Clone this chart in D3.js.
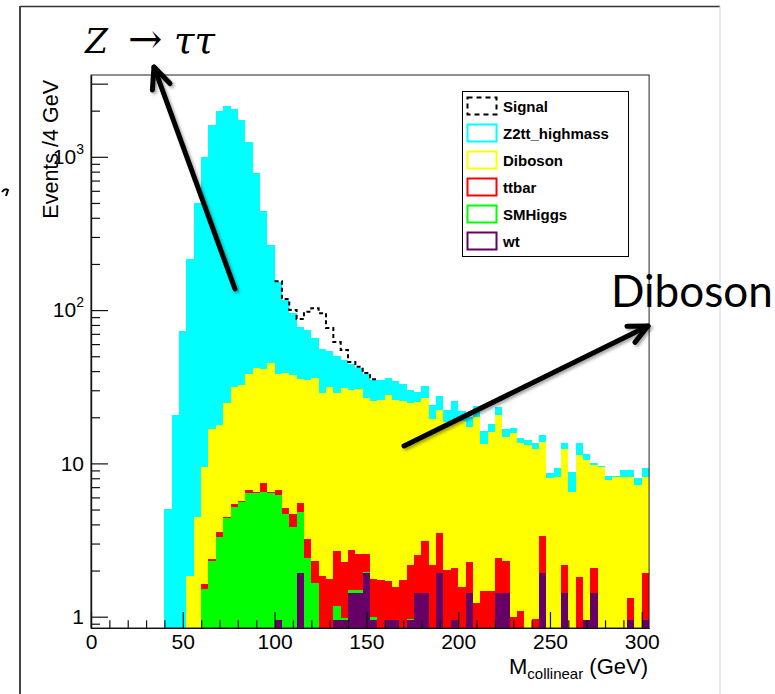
<!DOCTYPE html>
<html><head><meta charset="utf-8">
<script src="https://cdn.jsdelivr.net/npm/d3@7"></script>
<style>body{margin:0;background:#fff}svg{display:block}</style>
</head><body>
<svg id="c" width="775" height="694"></svg>
<script>
// ---- data (bin low edges in GeV, 4 GeV bins) ----
const binLow = [40,44,48,52,56,60,64,68,72,76,80,84,88,92,96,100,104,108,112,116,120,124,128,132,136,140,144,148,152,156,160,164,168,172,176,180,184,188,192,196,200,204,208,212,216,220,224,228,232,236,240,244,248,252,256,260,264,268,272,276,280,284,288,292,296,300];
const binWidth = 4;
const wt = [0,0,0,0,0, 0,0,0,0,0, 0,0,0,0,0, 0.95,0,0,1.92,0, 0,0,0,0.95,0.95, 1.43,1.43,1.92,0.95,0, 0.95,0.95,0,0.95,1.43, 1.43,0,1.92,0,0.95, 0,1.43,0,0,0, 1.43,1.43,0,0,0, 0,1.92,0,0,1.43, 0,0,0.95,1.43,0, 0,0,0,0.95,0, 0.95];
const smhiggs = [0,0,0,0,0, 1.51,2.32,3.33,4.38,5.22, 5.63,6.38,6.44,6.54,6.38, 5.27,4.68,3.83,2.92,2.43, 1.65,0,0,0.22,0.03, 0.06,0.06,0.03,0.04,0, 0,0,0,0.01,0, 0,0,0,0,0, 0,0,0,0,0, 0,0,0,0,0, 0,0,0,0,0, 0,0,0,0,0, 0,0,0,0,0, 0];
const ttbar = [0,0,0,0,0, 0.12,0.06,0.25,0.11,0.22, 0.02,0.33,0.10,0.88,0.16, 0.49,0.42,0.85,0.65,0.77, 0.66,1.84,1.75,1.51,1.30, 1.23,1.07,0.61,0.76,1.74, 0.76,0.62,1.74,1.21,1.10, 1.70,2.17,1.58,2.02,1.12, 1.57,0.86,1.22,1.46,1.46, 1.00,0.88,0.99,1.09,0, 0.96,1.44,0,0,0.74, 0,1.82,0,0.64,0, 0,0,0,0.37,0, 0.97];
const diboson = [0,0,0,1.85,4.45, 7.89,14.5,14.2,20.2,26.0, 26.9,31.4,35.2,33.7,38.9, 31.6,33.6,33.0,29.9,31.8, 33.6,27.1,29.9,26.2,28.6, 27.4,28.0,24.0,23.6,24.2, 26.2,24.5,23.9,22.7,22.8, 23.5,17.2,18.8,16.7,17.3, 17.4,14.9,18.8,12.0,14.6, 18.3,12.6,14.7,12.4,13.2, 11.5,10.5,8.0,8.19,10.3, 6.54,9.5,9.55,7.7,9.52, 7.79,8.19,8.19,6.87,7.23, 6.27];
const z2tt = [5.04,20.7,73.4,213.7,492.5, 992,1595,1980,2120,2010, 1706,1216,739,404,221, 114.7,77.3,57.6,42.5,39.2, 29.6,26.9,22.5,21.3,16.4, 14.7,11.3,11.7,9.7,9.1, 8.2,8.4,7.4,5.2,4.1, 5.5,4.6,5.2,3.6,6.1, 3.1,2.8,3.7,2.8,2.0, 2.5,1.8,1.2,1.1,1.0, 1.1,1.4,0.62,1.1,1.2, 2.3,2.2,1.0,0.24,0.1, 0.52,0.1,0.87,0.87,0.77, 1.1];
const signal = [0,0,0,0,0, 0,0,0,0,0, 0,0,0,0,0, 1.5,2,4.9,9.6,23.4, 37.2,39.5,22.3,11.7,7.6, 1.0,0.8,0.6,0.3,0, 0,0,0,0,0, 0,0,0,0,0, 0,0,0,0,0, 0,0,0,0,0, 0,0,0,0,0, 0,0,0,0,0, 0,0,0,0,0, 0];

const stackKeys = ["wt","SMHiggs","ttbar","Diboson","Z2tt_highmass"];
const colors = {wt:"#660066", SMHiggs:"#00ff00", ttbar:"#ff0000", Diboson:"#ffff00", Z2tt_highmass:"#00ffff", Signal:"#000000"};
const legendOrder = ["Signal","Z2tt_highmass","Diboson","ttbar","SMHiggs","wt"];
const xMajorTicks = [0,50,100,150,200,250,300];
const xMinorTicks = [10,20,30,40,60,70,80,90,110,120,130,140,160,170,180,190,210,220,230,240,260,270,280,290];
const yMajorTicks = [1,10,100,1000,3000];
const yMinorTicks = [0.9,2,3,4,5,6,7,8,9,20,30,40,50,60,70,80,90,200,300,400,500,600,700,800,900,2000];
const yLabels = {1:["1",""],10:["10",""],100:["10","2"],1000:["10","3"],3000:["",""]};

// ---- layout ----
const L = 91, R = 649.1, T = 75, B = 628;
const ymin = 0.8437, ymax = 3417;
const x = d3.scaleLinear().domain([0,304]).range([L,R]);
const y = d3.scaleLog().domain([ymin,ymax]).range([B,T]);
const font = "'Liberation Sans', Arial, sans-serif";

const svg = d3.select("#c");
const defs = svg.append("defs");
defs.append("clipPath").attr("id","clip").append("rect").attr("x",L).attr("y",T).attr("width",R-L).attr("height",B-T);
const f = defs.append("filter").attr("id","shadow").attr("x","-20%").attr("y","-20%").attr("width","140%").attr("height","140%");
f.append("feDropShadow").attr("dx",2).attr("dy",2).attr("stdDeviation",1.6).attr("flood-color","#000").attr("flood-opacity",0.35);

// canvas border
svg.append("line").attr("x1",20).attr("y1",6.5).attr("x2",720).attr("y2",6.5).attr("stroke","#333").attr("stroke-width",1.5);
svg.append("line").attr("x1",20).attr("y1",6).attr("x2",20).attr("y2",694).attr("stroke","#444").attr("stroke-width",2);
svg.append("line").attr("x1",720).attr("y1",6).attr("x2",720).attr("y2",694).attr("stroke","#d8d8d8").attr("stroke-width",1);

// ---- histograms ----
const rows = binLow.map((lo,i)=>({lo, wt:wt[i], SMHiggs:smhiggs[i], ttbar:ttbar[i], Diboson:diboson[i], Z2tt_highmass:z2tt[i]}));
const layers = d3.stack().keys(stackKeys)(rows);
const n = binLow.length;
const gH = svg.append("g").attr("clip-path","url(#clip)");
const area = d3.area().x(d=>x(d.x)).y0(B).y1(d=>y(Math.max(d.v,ymin))).curve(d3.curveStepAfter);
for (let li = layers.length-1; li >= 0; li--) {
  const Ly = layers[li];
  const pts = Ly.map((d,i)=>({x:binLow[i], v:d[1]}));
  pts.push({x:binLow[n-1]+binWidth, v:Ly[n-1][1]});
  gH.append("path").attr("d",area(pts)).attr("fill",colors[Ly.key]).attr("shape-rendering","crispEdges");
}
// signal (on top of total background)
const totLayer = layers[layers.length-1];
const sigPts = [];
let lastI = -1;
rows.forEach((r,i)=>{ if (signal[i]>0){ sigPts.push({x:r.lo, v: totLayer[i][1]+signal[i]}); lastI=i; } });
sigPts.push({x:binLow[lastI]+binWidth, v: totLayer[lastI][1]+signal[lastI]});
gH.append("path").attr("d", d3.line().x(d=>x(d.x)).y(d=>y(d.v)).curve(d3.curveStepAfter)(sigPts))
  .attr("fill","none").attr("stroke","#000").attr("stroke-width",2).attr("stroke-dasharray","4 3");

// ---- frame & axes ----
svg.append("rect").attr("x",L).attr("y",T).attr("width",R-L).attr("height",B-T).attr("fill","none").attr("stroke","#222").attr("stroke-width",1);

const gx = svg.append("g").attr("transform",`translate(0,${B})`);
gx.call(d3.axisBottom(x).tickValues(xMinorTicks).tickSize(-7.7).tickSizeOuter(0).tickFormat(""));
const gx2 = svg.append("g").attr("transform",`translate(0,${B})`);
gx2.call(d3.axisBottom(x).tickValues(xMajorTicks).tickSize(-16).tickPadding(6).tickSizeOuter(0).tickFormat(d3.format("d")));
[gx,gx2].forEach(g=>{ g.selectAll("path,line").attr("stroke","#111").attr("stroke-width",1.2); });
gx2.selectAll("text").attr("font-family",font).attr("font-size",21).attr("fill","#000");

const gy = svg.append("g").attr("transform",`translate(${L},0)`);
gy.call(d3.axisLeft(y).tickValues(yMinorTicks).tickSize(-9).tickSizeOuter(0).tickFormat(""));
const gy2 = svg.append("g").attr("transform",`translate(${L},0)`);
gy2.call(d3.axisLeft(y).tickValues(yMajorTicks).tickSize(-17).tickPadding(7).tickSizeOuter(0).tickFormat(()=>""));
[gy,gy2].forEach(g=>{ g.selectAll("path,line").attr("stroke","#111").attr("stroke-width",1.2); });
gy2.selectAll("text").each(function(d){
  const t = d3.select(this).attr("font-family",font).attr("font-size",21).attr("fill","#000");
  const lab = yLabels[d];
  t.append("tspan").text(lab[0]);
  if (lab[1]) t.append("tspan").attr("font-size",14).attr("dy","-10").text(lab[1]);
});

// axis titles
svg.append("text").attr("transform","translate(58,80) rotate(-90)").attr("text-anchor","end")
  .attr("font-family",font).attr("font-size",21.5).text("Events /4 GeV");
const xt = svg.append("text").attr("x",648).attr("y",674).attr("text-anchor","end").attr("font-family",font).attr("font-size",22);
xt.append("tspan").text("M");
xt.append("tspan").attr("font-size",15).attr("dy",5).text("collinear");
xt.append("tspan").attr("dy",-5).text(" (GeV)");

// ---- legend ----
const lg = svg.append("g");
lg.append("rect").attr("x",462.5).attr("y",91.5).attr("width",166).attr("height",165).attr("fill","#fff").attr("stroke","#000").attr("stroke-width",1);
legendOrder.forEach((k,i)=>{
  const cy = 106 + i*27;
  const r = lg.append("rect").attr("x",467.5).attr("y",cy-8.5).attr("width",29).attr("height",17).attr("fill","#fff")
    .attr("stroke",colors[k]).attr("stroke-width",2);
  if (k==="Signal") r.attr("stroke-dasharray","5 4");
  lg.append("text").attr("x",503).attr("y",cy+5.5).attr("font-family",font).attr("font-weight","bold").attr("font-size",15).text(k);
});

// ---- annotations ----
const ann = svg.append("g");
const zt = ann.append("text").attr("y",53).attr("font-family","'DejaVu Serif', serif").attr("fill","#000");
zt.append("tspan").attr("x",85).attr("font-style","italic").attr("font-size",33).text("Z");
zt.append("tspan").attr("x",128).attr("font-size",41).text("→");
zt.append("tspan").attr("x",174).attr("font-style","italic").attr("font-size",37).text("ττ");

function arrow(x1,y1,x2,y2,len,ang){
  const g = ann.append("g").attr("filter","url(#shadow)");
  const a = Math.atan2(y1-y2, x1-x2);
  g.append("line").attr("x1",x1).attr("y1",y1).attr("x2",x2).attr("y2",y2).attr("stroke","#000").attr("stroke-width",5).attr("stroke-linecap","round");
  const p1 = [x2+len*Math.cos(a+ang), y2+len*Math.sin(a+ang)];
  const p2 = [x2+len*Math.cos(a-ang), y2+len*Math.sin(a-ang)];
  g.append("path").attr("d",`M${p1[0]},${p1[1]}L${x2},${y2}L${p2[0]},${p2[1]}`).attr("fill","none").attr("stroke","#000").attr("stroke-width",5).attr("stroke-linecap","round").attr("stroke-linejoin","round");
}
arrow(235,289,154,67,23,0.42);
arrow(404,446,648,326,21,0.44);

ann.append("text").attr("x",611).attr("y",307).attr("font-family","Lato, 'Open Sans', sans-serif").attr("font-size",44).attr("fill","#000").text("Diboson");
ann.append("path").attr("d","M2,192 Q5,188 8,190 L6,196").attr("fill","none").attr("stroke","#000").attr("stroke-width",2);
</script>
</body></html>
